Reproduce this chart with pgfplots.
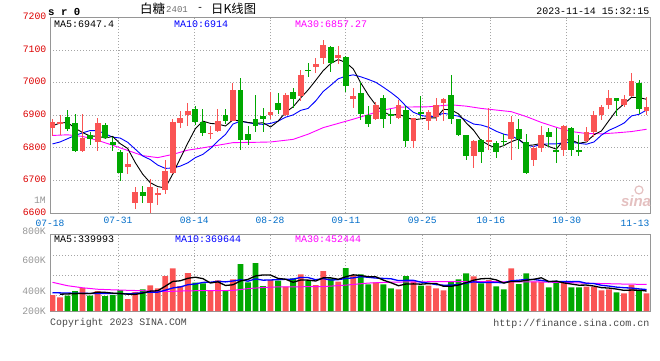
\documentclass[border=0pt]{standalone}
\usepackage{fontspec}
\usepackage{pgfplots}
\usepackage{pgfplotstable}
\pgfplotsset{compat=1.18}
\setmainfont{Liberation Mono}
\newfontfamily\mono{Liberation Mono}
\newfontfamily\sansf{Liberation Sans}
\newfontfamily\cjk{Noto Sans CJK SC}
\newcommand\mf[1]{\mono\fontsize{#1}{#1}\selectfont}

\definecolor{cup}{RGB}{250,84,84}
\definecolor{cdn}{RGB}{0,168,0}
\definecolor{gridc}{RGB}{165,165,165}
\definecolor{framec}{RGB}{150,150,150}
\definecolor{pricelbl}{RGB}{220,0,0}
\definecolor{datelbl}{RGB}{0,108,200}
\definecolor{vollbl}{RGB}{150,150,150}
\definecolor{maP}{RGB}{255,0,255}
\definecolor{maB}{RGB}{0,0,255}
\definecolor{txtg}{RGB}{70,70,70}
\definecolor{codeg}{RGB}{110,110,110}
\definecolor{wmk}{RGB}{228,192,192}

% i open high low close volume(K)
\pgfplotstableread{
i o h l c v
0 6860 6890 6836 6878 272
1 6872 6900 6838 6878 232
4 6789 6903 6787 6831 391
6 6818 6893 6790 6875 340
10 6740 6785 6720 6750 204
11 6630 6679 6612 6664 323
13 6632 6703 6600 6680 437
14 6656 6676 6625 6661 386
15 6670 6763 6658 6730 595
16 6722 6890 6720 6880 726
17 6876 6913 6860 6891 425
18 6900 6938 6868 6913 646
21 6843 6867 6827 6846 357
22 6853 6918 6848 6882 522
24 6883 7000 6881 6976 539
29 6900 6973 6888 6910 527
31 6900 6968 6898 6963 414
33 6960 7038 6943 7025 624
35 7048 7076 7030 7058 442
36 7076 7130 7058 7115 680
38 7075 7113 7058 7085 499
40 6950 6983 6923 6958 607
43 6888 6940 6886 6932 488
46 6893 6946 6890 6932 369
48 6822 6893 6800 6892 499
50 6883 6916 6854 6911 431
51 6896 6953 6883 6933 386
52 6938 6953 6883 6950 352
56 6776 6823 6738 6820 590
58 6818 6923 6792 6823 527
61 6828 6898 6762 6880 726
64 6762 6805 6743 6800 499
65 6800 6868 6788 6840 499
68 6795 6870 6775 6867 488
71 6820 6865 6817 6850 414
72 6848 6912 6832 6902 414
73 6901 6933 6886 6926 352
74 6933 6978 6918 6952 369
76 6931 6962 6926 6950 301
77 6958 7030 6956 7004 442
79 6912 6956 6900 6926 301
}\up

\pgfplotstableread{
i o h l c v
2 6896 6916 6852 6858 261
3 6875 6905 6787 6789 340
5 6838 6850 6808 6826 261
7 6871 6875 6828 6831 255
8 6818 6833 6790 6810 272
9 6788 6795 6698 6722 357
12 6664 6684 6632 6651 369
19 6920 6930 6870 6880 482
20 6880 6918 6837 6845 471
23 6901 6920 6873 6883 340
25 6976 7013 6792 6825 799
26 6842 6867 6810 6825 488
27 6890 6961 6848 6868 816
28 6898 6923 6848 6890 425
30 6938 6968 6903 6915 516
32 6973 6983 6923 6950 556
34 7040 7060 7018 7036 516
37 7110 7113 7033 7060 556
39 7078 7083 6973 6990 731
41 6968 7003 6886 6903 624
42 6902 6930 6865 6872 454
44 6953 6963 6860 6888 454
45 6905 6918 6872 6898 386
47 6915 6928 6804 6822 595
49 6911 6958 6888 6903 431
53 6962 7023 6873 6888 499
54 6890 6890 6836 6838 539
55 6840 6840 6764 6776 641
57 6825 6828 6755 6787 471
59 6815 6821 6770 6788 420
60 6822 6843 6807 6817 369
62 6858 6890 6798 6828 459
63 6817 6843 6720 6722 641
66 6850 6860 6802 6832 403
67 6793 6860 6753 6788 499
69 6860 6863 6775 6795 403
70 6793 6840 6775 6788 403
75 6952 6952 6898 6943 318
78 6999 7008 6905 6920 340
}\down

% price MA5, MA10; volume MA5, MA10 (K)
\pgfplotstableread{
i ma5 ma10 vma5 vma10
0 6868 6812 nan 312
1 6876 6818 285 308
2 6878 6828 290 305
3 6860 6838 295 302
4 6847 6846 299 300
5 6836 6853 297 299
6 6836 6853 319 298
7 6830 6843 317 297
8 6835 6833 304 297
9 6813 6830 297 298
10 6798 6817 286 291
11 6755 6796 282 300
12 6719 6775 305 311
13 6693 6764 338 321
14 6681 6747 344 320
15 6677 6737 422 354
16 6720 6738 503 392
17 6768 6744 514 409
18 6815 6754 556 447
19 6859 6770 575 459
20 6882 6780 550 486
21 6875 6798 476 489
22 6873 6821 496 505
23 6867 6841 434 495
24 6886 6873 446 510
25 6882 6882 511 531
26 6878 6877 538 507
27 6875 6874 596 546
28 6877 6872 613 524
29 6864 6875 611 528
30 6882 6882 554 533
31 6909 6894 540 539
32 6926 6901 488 542
33 6953 6915 527 570
34 6978 6921 525 568
35 7007 6944 510 532
36 7037 6973 564 552
37 7059 6992 564 526
38 7071 7012 539 533
39 7062 7020 582 553
40 7042 7024 615 563
41 6999 7018 603 584
42 6962 7010 583 573
43 6931 7001 581 560
44 6911 6986 525 554
45 6899 6970 481 548
46 6904 6952 430 517
47 6894 6928 458 521
48 6886 6909 461 521
49 6889 6900 456 491
50 6892 6895 465 473
51 6892 6898 468 449
52 6918 6906 420 439
53 6917 6902 420 440
54 6904 6897 441 449
55 6877 6885 483 474
56 6854 6873 524 496
57 6822 6870 548 484
58 6809 6863 554 487
59 6799 6851 530 486
60 6807 6842 475 479
61 6819 6837 503 513
62 6827 6825 500 524
63 6807 6808 523 538
64 6809 6804 539 534
65 6814 6811 565 520
66 6804 6812 500 501
67 6796 6812 508 504
68 6825 6816 478 500
69 6824 6817 458 499
70 6814 6814 439 502
71 6818 6811 441 471
72 6840 6818 424 466
73 6852 6839 397 437
74 6884 6854 390 424
75 6915 6864 373 406
76 6935 6876 351 396
77 6955 6898 356 390
78 6954 6903 354 376
79 6949 6916 340 365
}\ma

\pgfplotsset{
  candleaxis/.style={
    scale only axis, width=600pt, xmin=-0.3324, xmax=79.455,
    axis line style={draw=framec, line width=1pt},
    grid style={draw=gridc, line width=0.9pt, dash pattern=on 1pt off 2pt},
    major tick length=0pt, tick style={draw=none},
    xtick={8.71,18.86,28.92,39.02,49.18,58.27,68.38},
    xmajorgrids, ymajorgrids,
  },
  wick/.style={draw=none, mark=none, forget plot,
    error bars/.cd, y dir=both, y explicit, error mark=none,
    error bar style={draw=#1, line width=1pt}},
  body/.style={draw=none, mark=none, forget plot,
    error bars/.cd, y dir=both, y explicit, error mark=none,
    error bar style={draw=#1, line width=5.8pt}},
}

\begin{document}
\begin{tikzpicture}
\path (0pt,0pt) rectangle (660pt,360pt);

% ---------------- price panel ----------------
\begin{axis}[candleaxis, at={(50pt,147pt)}, anchor=south west,
  height=195.5pt, ymin=6600, ymax=7200,
  ytick={6600,6700,6800,6900,7000,7100,7200},
  yticklabels={6600,6700,6800,6900,7000,7100,7200},
  yticklabel style={font=\mf{9.8}, text=pricelbl, anchor=east, inner sep=0pt, xshift=-3.5pt, yshift=1pt},
  xticklabels={07-31,08-14,08-28,09-11,09-25,10-16,10-30},
  xticklabel style={font=\mf{9.6}, text=datelbl, anchor=north, inner sep=0pt, yshift=-3.5pt},
  extra x ticks={-0.33,77.46},
  extra x tick labels={07-18,11-13},
  extra x tick style={grid=none, xticklabel style={font=\mf{9.6}, text=datelbl, anchor=north, inner sep=0pt, yshift=-3.5pt}},
]
\addplot[maP, line width=0.9pt] coordinates {
(0,6838) (2,6840) (4,6835) (6,6823) (8,6808) (10,6792) (12,6776) (14,6770)
(16,6780) (18,6793) (20,6800) (22,6808) (24,6816) (27,6817) (29,6818)
(32,6826) (34,6842) (36,6862) (38,6875) (40,6888) (42,6902) (44,6916)
(46,6925) (50,6926) (53,6932) (55,6928) (57,6921) (59,6916) (61,6911)
(63,6896) (65,6878) (67,6863) (69,6850) (71,6844) (73,6843) (75,6846)
(77,6850) (79,6857)};
\addplot[maB, line width=0.9pt] table[x=i, y=ma10] {\ma};
\addplot[black, line width=0.9pt] table[x=i, y=ma5] {\ma};

\addplot[wick=cup] table[x=i, y expr={(\thisrow{h}+\thisrow{l})/2}, y error expr={(\thisrow{h}-\thisrow{l})/2}] {\up};
\addplot[body=cup] table[x=i, y expr={(\thisrow{o}+\thisrow{c})/2}, y error expr={abs(\thisrow{c}-\thisrow{o})/2}] {\up};
\addplot[wick=cdn] table[x=i, y expr={(\thisrow{h}+\thisrow{l})/2}, y error expr={(\thisrow{h}-\thisrow{l})/2}] {\down};
\addplot[body=cdn] table[x=i, y expr={(\thisrow{o}+\thisrow{c})/2}, y error expr={abs(\thisrow{c}-\thisrow{o})/2}] {\down};
\end{axis}

% ---------------- volume panel ----------------
\begin{axis}[candleaxis, at={(50pt,49pt)}, anchor=south west,
  height=77pt, ymin=0, ymax=1309,
  ytick={272,612,952}, yticklabels={},
  xticklabels={},
]
\addplot[ybar, bar width=5.8pt, bar shift=0pt, fill=cup, draw=none] table[x=i, y=v] {\up};
\addplot[ybar, bar width=5.8pt, bar shift=0pt, fill=cdn, draw=none] table[x=i, y=v] {\down};
\addplot[maP, line width=1pt] coordinates {
(0,488) (2,430) (4,395) (6,370) (8,360) (10,352) (12,345) (14,335) (16,335)
(18,343) (20,346) (22,346) (24,350) (26,380) (28,400) (30,410) (33,412)
(36,415) (39,440) (42,475) (45,490) (48,496) (52,499) (56,499) (60,497)
(64,495) (68,485) (72,470) (76,458) (79,452)};
\addplot[maB, line width=1.3pt] table[x=i, y=vma10] {\ma};
\addplot[black, line width=1.3pt, unbounded coords=jump] table[x=i, y=vma5] {\ma};
\end{axis}

% ---------------- texts ----------------
\node[anchor=west, inner sep=0pt, font=\mono\bfseries\fontsize{10.7}{11}\selectfont] at (48pt,347.8pt) {s r 0};
\node[anchor=west, inner sep=0pt, font=\cjk\fontsize{12.5}{13}\selectfont] at (140pt,350.8pt) {白糖};
\node[anchor=west, inner sep=0pt, font=\mf{9}, text=codeg] at (166pt,350.5pt) {2401};
\node[anchor=center, inner sep=0pt, font=\mf{10}] at (200pt,350.8pt) {-};
\node[anchor=west, inner sep=0pt, font=\cjk\fontsize{12.3}{13}\selectfont] at (211pt,350.8pt) {日K线图};
\node[anchor=east, inner sep=0pt, font=\mf{9.9}] at (649.5pt,348.8pt) {2023-11-14 15:32:15};

\node[anchor=west, inner sep=0pt, font=\mf{10}] at (54pt,336pt) {MA5:6947.4};
\node[anchor=west, inner sep=0pt, font=\mf{10}, text=maB] at (174pt,336pt) {MA10:6914};
\node[anchor=west, inner sep=0pt, font=\mf{10}, text=maP] at (295pt,336pt) {MA30:6857.27};

\node[anchor=west, inner sep=0pt, font=\mf{10}] at (54pt,121.3pt) {MA5:339993};
\node[anchor=west, inner sep=0pt, font=\mf{10}, text=maB] at (175pt,121.3pt) {MA10:369644};
\node[anchor=west, inner sep=0pt, font=\mf{10}, text=maP] at (295pt,121.3pt) {MA30:452444};

\node[anchor=east, inner sep=0pt, font=\mf{9.8}, text=vollbl] at (46pt,160pt) {1M};
\node[anchor=east, inner sep=0pt, font=\mf{9.8}, text=vollbl] at (46pt,128.6pt) {800K};
\node[anchor=east, inner sep=0pt, font=\mf{9.8}, text=vollbl] at (46pt,100pt) {600K};
\node[anchor=east, inner sep=0pt, font=\mf{9.8}, text=vollbl] at (46pt,69pt) {400K};
\node[anchor=east, inner sep=0pt, font=\mf{9.8}, text=vollbl] at (46pt,49pt) {200K};

\node[anchor=west, inner sep=0pt, font=\mf{9.9}, text=txtg] at (50pt,36.6pt) {Copyright 2023 SINA.COM};
\node[anchor=east, inner sep=0pt, font=\mf{10}, text=txtg] at (649.5pt,36.5pt) {http://finance.sina.com.cn};

\draw[draw=wmk, line width=1.2pt] (639pt,170pt) circle (4pt);
\node[anchor=center, inner sep=0pt, font=\sansf\bfseries\itshape\fontsize{15}{15}\selectfont, text=wmk] at (636pt,159pt) {sina};
\end{tikzpicture}
\end{document}
